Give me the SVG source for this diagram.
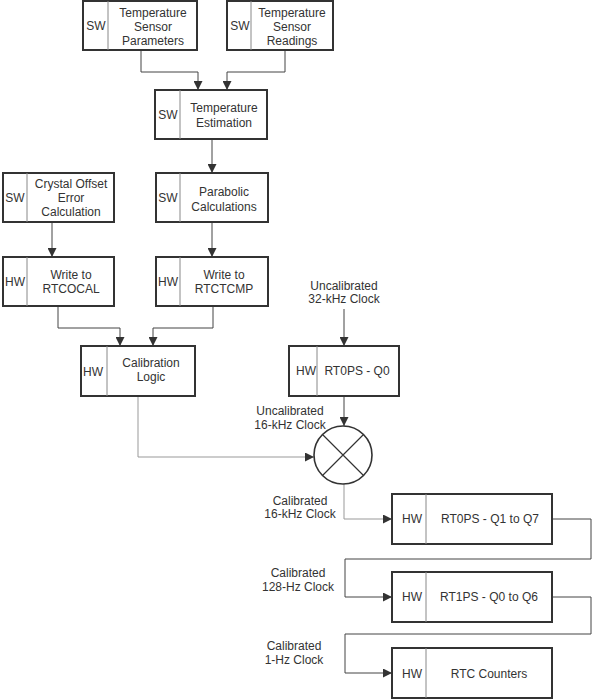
<svg xmlns="http://www.w3.org/2000/svg" width="592" height="700" viewBox="0 0 592 700">
<defs>
<style>
.box{fill:#fff;stroke:#333;stroke-width:2}
.div{stroke:#888;stroke-width:1}
.t{font-family:"Liberation Sans",Arial,sans-serif;font-size:12px;fill:#333;text-anchor:middle}
.c{fill:none;stroke:#444;stroke-width:1}
.g{fill:none;stroke:#999;stroke-width:1}
</style>
<marker id="ah" viewBox="0 0 10 10" refX="10" refY="5" markerWidth="9" markerHeight="9" markerUnits="userSpaceOnUse" orient="auto">
<path d="M0,0 L10,5 L0,10 Z" fill="#333"/>
</marker>
</defs>
<rect width="592" height="700" fill="#fff"/>
<g id="connectors">
<path class="c" d="M141,50 V72 H198 V90" marker-end="url(#ah)"/>
<path class="c" d="M285,50 V72 H227 V90" marker-end="url(#ah)"/>
<path class="c" d="M212,139 V173" marker-end="url(#ah)"/>
<path class="c" d="M52,222 V257" marker-end="url(#ah)"/>
<path class="c" d="M212,222 V257" marker-end="url(#ah)"/>
<path class="c" d="M58,306 V328 H120 V346" marker-end="url(#ah)"/>
<path class="c" d="M213,306 V328 H153 V346" marker-end="url(#ah)"/>
<path class="c" d="M344,309 V346" marker-end="url(#ah)"/>
<path class="c" d="M344,396 V426" marker-end="url(#ah)"/>
<path class="g" d="M138,396 V457 H314" marker-end="url(#ah)"/>
<path class="g" d="M344,484 V519 H392" marker-end="url(#ah)"/>
<path class="c" d="M552,519 H591 V559 H345 V597 H392" marker-end="url(#ah)"/>
<path class="c" d="M552,597 H591 V634 H345 V673 H392" marker-end="url(#ah)"/>
</g>
<g id="mixer">
<circle cx="343" cy="455" r="29" fill="#fff" stroke="#333" stroke-width="1.6"/>
<path d="M322.5,434.5 L363.5,475.5 M363.5,434.5 L322.5,475.5" stroke="#333" stroke-width="1.2"/>
</g>
<g id="n-tsp">
<rect class="box" x="83" y="1" width="114" height="49"/>
<line class="div" x1="108" y1="1" x2="108" y2="50"/>
<text class="t" x="96" y="30">SW</text>
<text class="t" x="153" y="17">Temperature</text>
<text class="t" x="153" y="31">Sensor</text>
<text class="t" x="153" y="45">Parameters</text>
</g>
<g id="n-tsr">
<rect class="box" x="227" y="1" width="106" height="49"/>
<line class="div" x1="251" y1="1" x2="251" y2="50"/>
<text class="t" x="240" y="30">SW</text>
<text class="t" x="292" y="17">Temperature</text>
<text class="t" x="292" y="31">Sensor</text>
<text class="t" x="292" y="45">Readings</text>
</g>
<g id="n-te">
<rect class="box" x="155" y="90" width="112" height="49"/>
<line class="div" x1="180" y1="90" x2="180" y2="139"/>
<text class="t" x="168" y="119">SW</text>
<text class="t" x="224" y="112">Temperature</text>
<text class="t" x="224" y="127">Estimation</text>
</g>
<g id="n-coec">
<rect class="box" x="3" y="173" width="111" height="49"/>
<line class="div" x1="27" y1="173" x2="27" y2="222"/>
<text class="t" x="15" y="202">SW</text>
<text class="t" x="71" y="188">Crystal Offset</text>
<text class="t" x="71" y="202">Error</text>
<text class="t" x="71" y="216">Calculation</text>
</g>
<g id="n-pc">
<rect class="box" x="156" y="173" width="112" height="49"/>
<line class="div" x1="180" y1="173" x2="180" y2="222"/>
<text class="t" x="168" y="202">SW</text>
<text class="t" x="224" y="196">Parabolic</text>
<text class="t" x="224" y="211">Calculations</text>
</g>
<g id="n-rtcocal">
<rect class="box" x="3" y="257" width="111" height="49"/>
<line class="div" x1="27" y1="257" x2="27" y2="306"/>
<text class="t" x="15" y="286">HW</text>
<text class="t" x="71" y="279">Write to</text>
<text class="t" x="71" y="293">RTCOCAL</text>
</g>
<g id="n-rtctcmp">
<rect class="box" x="156" y="257" width="112" height="49"/>
<line class="div" x1="180" y1="257" x2="180" y2="306"/>
<text class="t" x="168" y="286">HW</text>
<text class="t" x="224" y="279">Write to</text>
<text class="t" x="224" y="293">RTCTCMP</text>
</g>
<g id="n-cal">
<rect class="box" x="81" y="346" width="114" height="50"/>
<line class="div" x1="107" y1="346" x2="107" y2="396"/>
<text class="t" x="93" y="376">HW</text>
<text class="t" x="151" y="367">Calibration</text>
<text class="t" x="151" y="381">Logic</text>
</g>
<g id="n-rt0q0">
<rect class="box" x="289" y="346" width="110" height="50"/>
<line class="div" x1="317" y1="346" x2="317" y2="396"/>
<text class="t" x="306" y="375">HW</text>
<text class="t" x="357" y="375">RT0PS - Q0</text>
</g>
<g id="n-rt0q17">
<rect class="box" x="392" y="494" width="160" height="50"/>
<line class="div" x1="426" y1="494" x2="426" y2="544"/>
<text class="t" x="412" y="523">HW</text>
<text class="t" x="490" y="523">RT0PS - Q1 to Q7</text>
</g>
<g id="n-rt1">
<rect class="box" x="392" y="572" width="160" height="50"/>
<line class="div" x1="426" y1="572" x2="426" y2="622"/>
<text class="t" x="412" y="601">HW</text>
<text class="t" x="489" y="601">RT1PS - Q0 to Q6</text>
</g>
<g id="n-rtc">
<rect class="box" x="392" y="648" width="160" height="50"/>
<line class="div" x1="426" y1="648" x2="426" y2="698"/>
<text class="t" x="412" y="678">HW</text>
<text class="t" x="489" y="678">RTC Counters</text>
</g>
<g id="labels">
<text class="t" x="344" y="290">Uncalibrated</text>
<text class="t" x="344" y="303">32-kHz Clock</text>
<text class="t" x="290" y="415">Uncalibrated</text>
<text class="t" x="290" y="429">16-kHz Clock</text>
<text class="t" x="300" y="505">Calibrated</text>
<text class="t" x="300" y="518">16-kHz Clock</text>
<text class="t" x="298" y="577">Calibrated</text>
<text class="t" x="298" y="591">128-Hz Clock</text>
<text class="t" x="294" y="650">Calibrated</text>
<text class="t" x="294" y="664">1-Hz Clock</text>
</g>
</svg>
